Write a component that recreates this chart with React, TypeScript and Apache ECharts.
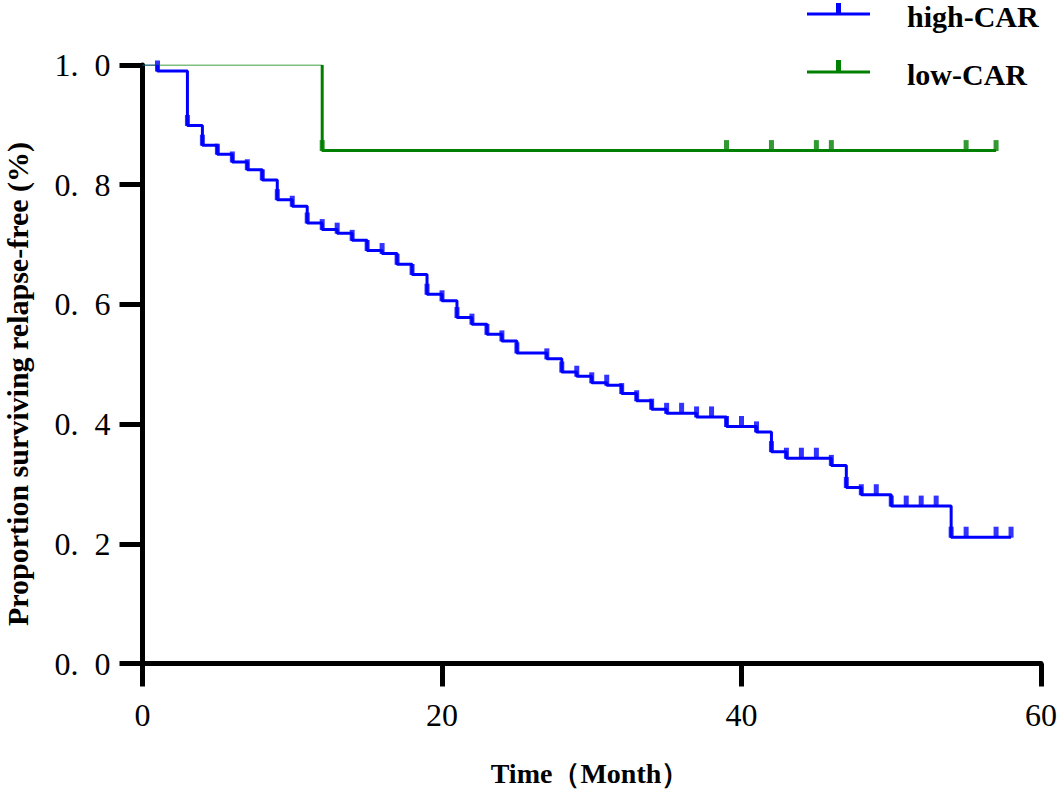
import React, { useEffect, useRef } from "react";
import * as echarts from "echarts";

// high-CAR: Kaplan-Meier step points (time in months, proportion)
const highTimes = [1, 3, 4, 5, 6, 7, 8, 9, 10, 11, 12, 13, 14, 15, 16, 17, 18, 19, 20, 21, 22, 23, 24, 25, 27, 28, 29, 30, 31, 32, 33, 34, 35, 37, 39, 41, 42, 43, 46, 47, 48, 50, 54, 58];
const highSurv = [0.99, 0.899, 0.866, 0.851, 0.838, 0.825, 0.808, 0.775, 0.764, 0.736, 0.725, 0.719, 0.707, 0.69, 0.685, 0.667, 0.65, 0.617, 0.606, 0.578, 0.567, 0.55, 0.539, 0.519, 0.509, 0.487, 0.48, 0.469, 0.465, 0.451, 0.439, 0.425, 0.418, 0.412, 0.396, 0.387, 0.354, 0.343, 0.331, 0.294, 0.282, 0.263, 0.211, 0.211];
const highCensor = [1, 3, 4, 5, 6, 7, 8, 9, 10, 11, 12, 13, 14, 15, 16, 17, 18, 19, 20, 21, 22, 23, 24, 25, 27, 28, 29, 30, 31, 32, 33, 34, 35, 36, 37, 38, 39, 40, 41, 42, 43, 44, 45, 46, 47, 48, 49, 50, 51, 52, 53, 54, 55, 57, 58];

// low-CAR
const lowTimes = [12, 57];
const lowSurv = [0.857, 0.857];
const lowCensor = [12, 39, 42, 45, 46, 55, 57];

const xTicks = [0, 20, 40, 60];
const yTicks = [0, 0.2, 0.4, 0.6, 0.8, 1.0];

const BLUE = "#0000FF";
const GREEN = "#008000";
const FONT = "'Liberation Serif', 'Times New Roman', serif";

function levelAt(times: number[], surv: number[], t: number): number {
  let v = 1;
  for (let i = 0; i < times.length; i++) {
    if (times[i] <= t) v = surv[i];
  }
  return v;
}

export default function App() {
  const ref = useRef<HTMLDivElement>(null);
  useEffect(() => {
    if (!ref.current) return;
    const chart = echarts.init(ref.current, undefined, { renderer: "svg" });
    const highData = [[highTimes[0], 1], ...highTimes.map((t, i) => [t, highSurv[i]])];
    const lowData = [[lowTimes[0], 1], ...lowTimes.map((t, i) => [t, lowSurv[i]])];
    const highCens = highCensor.map((t) => [t, levelAt(highTimes, highSurv, t)]);
    const lowCens = lowCensor.map((t) => [t, levelAt(lowTimes, lowSurv, t)]);
    const censorSym = {
      type: "scatter",
      symbol: "rect",
      symbolSize: [5, 11],
      symbolOffset: [0, -5],
      silent: true,
    };
    chart.setOption({
      animation: false,
      grid: { left: 142.5, right: 20, top: 65, bottom: 125.5, containLabel: false },
      xAxis: {
        type: "value",
        min: 0,
        max: 60,
        interval: 20,
        axisLine: { show: true, onZero: true, lineStyle: { color: "#000", width: 5 } },
        axisTick: { show: true, length: 23, lineStyle: { color: "#000", width: 5 } },
        axisLabel: {
          color: "#000", fontFamily: FONT, fontSize: 32, margin: 35,
          formatter: (v: number) => (xTicks.includes(v) ? String(v) : ""),
        },
        splitLine: { show: false },
      },
      yAxis: {
        type: "value",
        min: 0,
        max: 1,
        interval: 0.2,
        axisLine: { show: true, lineStyle: { color: "#000", width: 5 } },
        axisTick: { show: true, length: 23, lineStyle: { color: "#000", width: 5 } },
        axisLabel: {
          color: "#000",
          fontFamily: FONT,
          fontSize: 32,
          margin: 32,
          formatter: (v: number) => {
            const t = yTicks.find((y) => Math.abs(y - v) < 1e-9);
            return t === undefined ? "" : t.toFixed(1).replace(".", ".\u2002");
          },
        },
        splitLine: { show: false },
      },
      series: [
        {
          type: "line",
          data: [[0, 1], [highTimes[0], 1]],
          showSymbol: false,
          lineStyle: { color: BLUE, width: 1.2 },
          silent: true,
        },
        {
          type: "line",
          data: [[0, 1], [lowTimes[0], 1]],
          showSymbol: false,
          lineStyle: { color: GREEN, width: 1.2 },
          silent: true,
        },
        {
          name: "low-CAR",
          type: "line",
          step: "end",
          data: lowData,
          showSymbol: false,
          lineStyle: { color: GREEN, width: 3 },
          silent: true,
        },
        { ...censorSym, data: lowCens, itemStyle: { color: GREEN } },
        {
          name: "high-CAR",
          type: "line",
          step: "end",
          data: highData,
          showSymbol: false,
          lineStyle: { color: BLUE, width: 3 },
          silent: true,
        },
        { ...censorSym, data: highCens, itemStyle: { color: BLUE } },
      ],
      graphic: [
        { type: "line", shape: { x1: 807, y1: 14, x2: 870, y2: 14 }, style: { stroke: BLUE, lineWidth: 3 } },
        { type: "rect", shape: { x: 836, y: 3, width: 5, height: 11 }, style: { fill: BLUE } },
        {
          type: "text", x: 907, y: 16,
          style: { text: "high-CAR", font: `bold 30px ${FONT}`, fill: "#000", textAlign: "left", textVerticalAlign: "middle" },
        },
        { type: "line", shape: { x1: 807, y1: 72, x2: 870, y2: 72 }, style: { stroke: GREEN, lineWidth: 3 } },
        { type: "rect", shape: { x: 836, y: 60, width: 5, height: 12 }, style: { fill: GREEN } },
        {
          type: "text", x: 907, y: 74,
          style: { text: "low-CAR", font: `bold 30px ${FONT}`, fill: "#000", textAlign: "left", textVerticalAlign: "middle" },
        },
        {
          type: "text", x: 17, y: 384, rotation: Math.PI / 2,
          style: { text: "Proportion surviving relapse-free (%)", font: `bold 30px ${FONT}`, fill: "#000", textAlign: "center", textVerticalAlign: "middle" },
        },
        {
          type: "text", x: 590, y: 773,
          style: { text: "Time（Month）", font: `bold 28px ${FONT}`, fill: "#000", textAlign: "center", textVerticalAlign: "middle" },
        },
      ],
    });
    return () => chart.dispose();
  }, []);
  return (
    <div
      ref={ref}
      style={{ position: "fixed", left: 0, top: 0, width: 1061, height: 789, background: "#fff" }}
    />
  );
}
